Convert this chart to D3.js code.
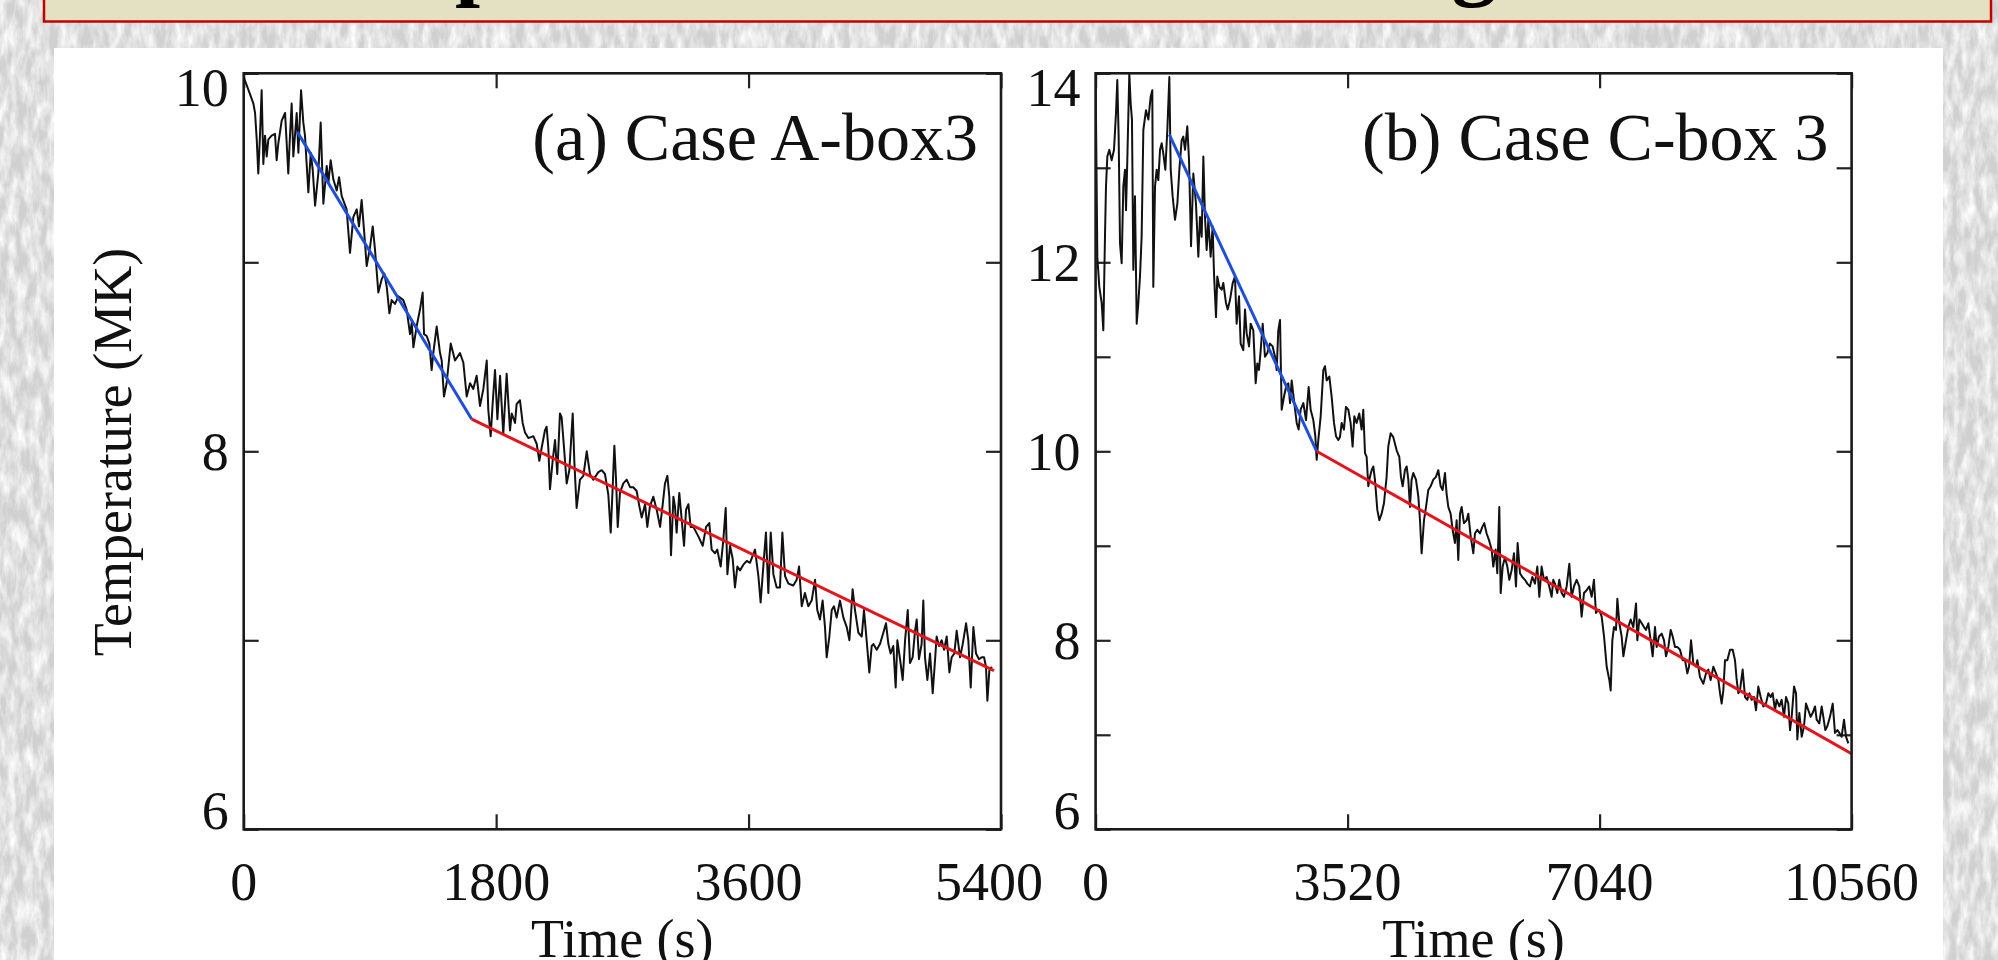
<!DOCTYPE html>
<html>
<head>
<meta charset="utf-8">
<script src="https://cdn.jsdelivr.net/npm/d3@7"></script>
<style>
  body { margin: 0; background: #d4d4d4; overflow: hidden; }
</style>
</head>
<body>
<div id="chart"></div>
<script>
// ---- data: [time (s), temperature (MK)] ----
const leftSeries = [
  [0,9.98],[45,9.89],[69,9.84],[81,9.79],[93,9.65],[104,9.47],[116,9.67],[128,9.91],[140,9.52],[152,9.67],
  [164,9.56],[176,9.65],[199,9.67],[223,9.68],[235,9.54],[247,9.63],[271,9.75],[295,9.79],[318,9.47],[330,9.67],
  [342,9.84],[354,9.56],[378,9.79],[390,9.58],[409,9.91],[425,9.74],[437,9.67],[449,9.52],[461,9.37],[478,9.58],
  [492,9.49],[509,9.30],[532,9.47],[549,9.74],[568,9.31],[592,9.51],[604,9.42],[620,9.54],[639,9.44],[663,9.38],
  [680,9.45],[699,9.35],[734,9.28],[758,9.05],[782,9.24],[806,9.28],[822,9.19],[841,9.33],[858,9.17],[877,8.98],
  [901,9.08],[920,9.19],[936,9.07],[960,8.84],[984,8.91],[1003,8.94],[1020,8.87],[1039,8.73],[1055,8.80],[1079,8.78],
  [1103,8.82],[1138,8.80],[1162,8.75],[1186,8.62],[1198,8.68],[1210,8.55],[1233,8.66],[1257,8.75],[1276,8.84],[1286,8.62],
  [1305,8.61],[1324,8.57],[1340,8.43],[1352,8.52],[1376,8.66],[1400,8.52],[1412,8.48],[1428,8.29],[1447,8.36],[1476,8.57],
  [1507,8.48],[1542,8.52],[1566,8.47],[1590,8.29],[1614,8.36],[1637,8.33],[1661,8.40],[1685,8.24],[1709,8.33],[1733,8.48],
  [1744,8.22],[1761,8.08],[1775,8.25],[1792,8.43],[1809,8.17],[1828,8.40],[1851,8.09],[1875,8.41],[1899,8.11],
  [1911,8.20],[1935,8.15],[1946,8.25],[1970,8.27],[1989,8.15],[2006,8.10],[2030,8.07],[2065,8.08],[2089,8.04],[2108,7.95],
  [2125,8.02],[2148,8.11],[2160,8.13],[2172,8.02],[2184,7.80],[2203,7.95],[2220,8.06],[2236,7.88],[2255,8.20],[2267,8.18],
  [2284,8.02],[2303,7.83],[2322,7.90],[2346,8.20],[2358,7.94],[2374,7.70],[2398,7.85],[2422,7.87],[2446,8.00],[2469,7.88],
  [2493,7.85],[2529,7.89],[2553,7.90],[2576,7.88],[2600,7.77],[2617,7.57],[2631,7.81],[2643,8.03],[2655,7.85],[2667,7.60],
  [2683,7.78],[2707,7.83],[2731,7.85],[2755,7.81],[2778,7.81],[2802,7.79],[2821,7.71],[2838,7.65],[2862,7.72],[2878,7.60],
  [2897,7.71],[2921,7.76],[2945,7.69],[2969,7.60],[2988,7.72],[3004,7.83],[3021,7.87],[3035,7.76],[3047,7.45],[3064,7.76],
  [3075,7.71],[3087,7.57],[3106,7.78],[3123,7.64],[3140,7.50],[3154,7.69],[3171,7.72],[3187,7.60],[3206,7.60],[3242,7.55],
  [3273,7.50],[3297,7.60],[3320,7.62],[3337,7.48],[3361,7.46],[3377,7.48],[3401,7.39],[3420,7.53],[3437,7.70],[3449,7.35],
  [3468,7.50],[3487,7.43],[3503,7.28],[3520,7.39],[3539,7.37],[3563,7.40],[3587,7.42],
  [3610,7.41],[3646,7.48],[3670,7.34],[3686,7.20],[3705,7.39],[3724,7.57],[3741,7.25],[3758,7.57],[3777,7.35],[3800,7.28],
  [3824,7.28],[3841,7.57],[3860,7.34],[3884,7.30],[3919,7.29],[3943,7.32],[3960,7.39],[3979,7.18],[4002,7.25],[4026,7.18],
  [4050,7.21],[4074,7.32],[4090,7.16],[4109,7.11],[4128,7.21],[4145,7.07],[4157,6.91],[4176,7.02],[4193,7.16],[4209,7.18],
  [4228,7.12],[4252,7.21],[4276,7.12],[4300,7.07],[4319,7.00],[4342,7.27],[4359,7.16],[4383,7.04],[4407,7.02],[4423,7.16],
  [4442,7.00],[4461,6.83],[4478,6.97],[4490,6.98],[4514,6.95],[4537,6.98],[4561,7.04],[4580,7.09],[4597,6.98],[4613,6.93],
  [4632,6.97],[4649,6.75],[4661,7.00],[4680,6.90],[4699,6.79],[4716,7.00],[4735,7.16],[4751,6.88],[4770,6.91],[4787,7.05],
  [4799,7.11],[4815,6.90],[4834,6.98],[4846,7.21],[4858,6.91],[4875,6.79],[4894,6.93],[4913,6.72],[4930,6.90],[4941,7.02],
  [4958,6.97],[4977,7.00],[4994,6.95],[5013,7.02],[5032,6.83],[5048,6.91],[5067,6.93],[5084,7.05],[5108,6.91],[5127,6.98],
  [5151,7.09],[5167,7.00],[5184,6.75],[5203,7.07],[5222,6.93],[5243,6.90],[5262,6.91],[5279,6.91],[5293,6.86],[5303,6.68],
  [5317,6.84],[5334,6.86]
];

const rightSeries = [
  [0,13.86],[6,13.51],[24,12.06],[52,11.74],[85,11.57],[108,11.28],[131,12.27],[145,12.80],[164,13.12],[192,13.19],
  [224,13.08],[257,13.19],[285,13.58],[303,13.93],[322,13.33],[341,12.20],[364,11.99],[387,12.80],[411,12.98],[425,12.55],
  [443,13.08],[471,14.00],[490,13.68],[508,13.51],[527,11.92],[550,12.70],[574,11.35],[597,11.57],[620,11.85],[643,12.27],
  [667,13.40],[704,13.61],[737,13.51],[769,13.75],[792,13.82],[806,11.74],[830,12.80],[853,12.98],[876,12.87],[900,13.19],
  [923,13.26],[946,13.15],[974,12.98],[1002,13.40],[1030,13.96],[1049,12.98],[1076,12.70],[1109,12.45],[1142,12.62],[1170,12.98],
  [1202,13.29],[1225,13.33],[1249,13.19],[1281,13.44],[1305,13.08],[1333,12.17],[1365,12.94],[1402,12.62],[1435,12.06],[1458,12.48],
  [1482,12.27],[1505,13.12],[1528,12.48],[1551,12.13],[1575,12.45],[1607,12.06],[1635,12.38],[1654,11.88],[1682,11.42],[1700,11.85],
  [1728,11.74],[1761,11.71],[1784,11.78],[1821,11.57],[1845,11.50],[1877,11.60],[1915,11.78],[1947,11.85],[1970,11.35],[2003,11.64],
  [2026,11.14],[2063,11.07],[2087,11.50],[2110,11.25],[2143,11.11],[2166,11.35],[2203,11.28],[2236,10.72],[2259,10.93],[2282,10.86],
  [2306,11.07],[2334,11.35],[2366,11.00],[2399,11.04],[2436,11.14],[2473,11.11],[2506,11.00],[2529,10.86],[2552,11.28],[2576,11.39],
  [2599,10.44],[2632,10.58],[2660,10.68],[2692,10.72],[2716,10.51],[2739,10.75],[2771,10.54],[2809,10.30],[2836,10.23],[2864,10.44],
  [2902,10.51],[2939,10.33],[2976,10.68],[3004,10.44],[3041,10.33],[3069,10.16],[3088,9.91],[3111,10.12],[3144,10.37],[3181,10.86],
  [3204,10.90],[3228,10.75],[3265,10.79],[3297,10.58],[3330,10.30],[3358,10.16],[3390,10.12],
  [3413,10.15],[3437,10.30],[3469,10.23],[3497,10.47],[3530,10.44],[3562,10.30],[3590,10.05],[3614,10.37],[3646,10.30],[3683,10.40],
  [3716,10.23],[3739,10.44],[3763,9.98],[3786,9.94],[3809,9.63],[3832,9.73],[3856,9.80],[3879,9.84],[3902,9.70],[3935,9.38],
  [3963,9.27],[3995,9.34],[4028,9.45],[4065,9.73],[4088,10.05],[4121,10.19],[4158,10.15],[4205,10.01],[4242,9.94],[4265,9.73],
  [4289,9.63],[4321,9.80],[4345,9.84],[4368,9.70],[4391,9.41],[4414,9.70],[4438,9.77],[4475,9.70],[4508,9.52],[4531,9.27],
  [4554,8.92],[4587,9.27],[4615,9.41],[4647,9.59],[4680,9.63],[4717,9.70],[4754,9.73],[4787,9.80],[4820,9.63],[4847,9.59],
  [4880,9.77],[4903,9.55],[4927,9.41],[4959,9.34],[4987,9.17],[5020,9.03],[5043,9.27],[5066,8.85],[5090,9.34],[5113,9.41],
  [5145,9.24],[5183,9.27],[5206,9.34],[5239,9.10],[5276,8.92],[5299,9.13],[5332,9.17],[5369,9.13],[5402,9.20],[5429,9.24],
  [5462,9.13],[5495,9.06],[5532,8.96],[5555,8.78],[5588,8.96],[5611,8.71],[5639,9.41],[5658,8.50],[5686,8.78],[5718,8.88],
  [5751,8.78],[5779,8.64],[5811,8.74],[5844,8.92],[5872,8.57],[5895,9.03],[5928,8.71],[5960,8.67],[5997,8.64],[6030,8.60],
  [6067,8.57],[6100,8.67],[6137,8.60],[6170,8.78],[6198,8.46],[6230,8.78],[6263,8.64],[6300,8.67],[6337,8.57],[6370,8.46],
  [6393,8.64],[6416,8.60],[6449,8.50],[6477,8.64],[6510,8.50],[6542,8.46],[6580,8.57],[6617,8.81],[6649,8.46],[6682,8.57],
  [6719,8.64],[6756,8.57],[6789,8.25],[6822,8.50],[6859,8.53],[6896,8.57],[6929,8.46],[6961,8.64],[6989,8.29],[7022,8.32],
  [7036,8.32],[7069,8.25],[7102,8.04],[7139,7.72],[7176,7.58],[7195,7.47],[7218,8.00],[7241,8.14],[7269,8.11],[7288,8.44],
  [7316,8.18],[7348,8.04],[7372,7.83],[7409,8.00],[7441,8.14],[7474,8.22],[7511,8.14],[7549,8.39],[7567,8.00],[7595,8.22],
  [7628,8.18],[7660,8.14],[7688,8.11],[7721,8.18],[7753,8.00],[7781,7.83],[7814,8.14],[7837,7.93],[7870,8.04],[7907,8.07],
  [7940,8.00],[7968,7.83],[8000,7.93],[8033,8.11],[8061,8.04],[8093,7.93],[8126,7.93],[8163,7.90],[8200,7.79],[8233,7.79],
  [8266,7.65],[8289,7.72],[8317,8.00],[8349,7.76],[8387,7.72],[8405,7.79],[8442,7.61],[8489,7.54],[8526,7.65],[8559,7.69],
  [8591,7.58],[8629,7.72],[8666,7.65],[8699,7.58],[8722,7.44],[8745,7.33],[8768,7.47],[8792,7.79],[8824,7.79],[8862,7.90],
  [8899,7.90],[8931,7.79],[8955,7.58],[8978,7.44],[9001,7.47],[9038,7.69],[9071,7.40],[9104,7.37],[9132,7.44],[9164,7.37],
  [9197,7.40],[9225,7.26],[9257,7.51],[9290,7.40],[9327,7.30],[9364,7.33],[9397,7.44],[9430,7.40],[9457,7.44],[9490,7.26],
  [9513,7.37],[9551,7.30],[9583,7.37],[9616,7.19],[9644,7.40],[9676,7.33],[9700,7.05],[9723,7.19],[9756,7.51],[9784,7.44],
  [9802,6.95],[9830,7.23],[9863,6.98],[9895,7.09],[9923,7.33],[9956,7.26],[9988,7.19],[10016,7.23],[10049,7.30],[10072,7.16],
  [10109,7.12],[10142,7.30],[10165,7.19],[10193,7.05],[10221,7.09],[10258,7.19],[10296,7.33],[10328,7.02],[10361,7.05],[10389,7.02],
  [10421,6.98],[10454,7.16],[10482,6.98],[10514,6.91]
];

// two-stage linear fits
const leftFitEarly = [[382, 9.69], [1626, 8.17]];
const leftFitLate = [[1626, 8.17], [5350, 6.84]];
const rightFitEarly = [[1030, 13.35], [3088, 10.0]];
const rightFitLate = [[3088, 10.0], [10560, 6.80]];

// axes
const leftXTicks = [0, 1800, 3600, 5400];
const leftYTicks = [6, 7, 8, 9, 10];
const leftYLabels = [6, 8, 10];
const rightXTicks = [0, 3520, 7040, 10560];
const rightYTicks = [6, 7, 8, 9, 10, 11, 12, 13, 14];
const rightYLabels = [6, 8, 10, 12, 14];

const W = 1998, H = 960;
const serif = "'Liberation Serif', 'Times New Roman', serif";

const svg = d3.select("#chart").append("svg")
  .attr("width", W)
  .attr("height", H);

const defs = svg.append("defs");

// marble-ish slide background
const marble = defs.append("filter").attr("id", "marble")
  .attr("x", 0).attr("y", 0).attr("width", "100%").attr("height", "100%");
marble.append("feTurbulence")
  .attr("type", "fractalNoise")
  .attr("baseFrequency", "0.12 0.04")
  .attr("numOctaves", 4)
  .attr("seed", 11);
marble.append("feColorMatrix")
  .attr("type", "matrix")
  .attr("values", "0 0 0 0 1  0 0 0 0 1  0 0 0 0 1  1.8 0 0 0 -0.55");

svg.append("rect").attr("width", W).attr("height", H).attr("fill", "#d0d0d0");
svg.append("rect").attr("width", W).attr("height", H).attr("filter", "url(#marble)");

// title banner (mostly off the top of the frame)
svg.append("rect")
  .attr("x", 44).attr("y", -40)
  .attr("width", 1947).attr("height", 61.5)
  .attr("fill", "#e4e1c3")
  .attr("stroke", "#c40000")
  .attr("stroke-width", 2.5);

const titleBits = [{ ch: "p", x: 480 }, { ch: "g", x: 1474 }];
svg.selectAll(".title-bit").data(titleBits).enter()
  .append("text")
  .attr("class", "title-bit")
  .attr("x", d => d.x)
  .attr("y", -11)
  .attr("text-anchor", "middle")
  .style("font-family", serif)
  .style("font-weight", "bold")
  .style("font-size", "90px")
  .text(d => d.ch);

// white figure panel
svg.append("rect")
  .attr("x", 54).attr("y", 48)
  .attr("width", 1889).attr("height", 920)
  .attr("fill", "#ffffff");

function drawPanel(p) {
  const x = d3.scaleLinear().domain(p.xDomain).range([p.x0, p.x1]);
  const y = d3.scaleLinear().domain(p.yDomain).range([p.y1, p.y0]);
  const g = svg.append("g");

  defs.append("clipPath").attr("id", p.id + "-clip")
    .append("rect")
    .attr("x", p.x0).attr("y", p.y0)
    .attr("width", p.x1 - p.x0).attr("height", p.y1 - p.y0);

  // inward ticks on all four sides
  const tick = 15;
  g.append("g").attr("transform", `translate(0,${p.y1})`)
    .call(d3.axisBottom(x).tickValues(p.xTicks).tickSizeInner(-tick).tickSizeOuter(0).tickFormat(""));
  g.append("g").attr("transform", `translate(0,${p.y0})`)
    .call(d3.axisTop(x).tickValues(p.xTicks).tickSizeInner(-tick).tickSizeOuter(0).tickFormat(""));
  g.append("g").attr("transform", `translate(${p.x0},0)`)
    .call(d3.axisLeft(y).tickValues(p.yTicks).tickSizeInner(-tick).tickSizeOuter(0).tickFormat(""));
  g.append("g").attr("transform", `translate(${p.x1},0)`)
    .call(d3.axisRight(y).tickValues(p.yTicks).tickSizeInner(-tick).tickSizeOuter(0).tickFormat(""));
  g.selectAll(".domain").remove();
  g.selectAll(".tick line").attr("stroke", "#222").attr("stroke-width", 2.2);

  const line = d3.line().x(d => x(d[0])).y(d => y(d[1]));
  const plot = g.append("g").attr("clip-path", `url(#${p.id}-clip)`);

  plot.append("path").datum(p.series)
    .attr("d", line)
    .attr("fill", "none")
    .attr("stroke", "#111")
    .attr("stroke-width", 2)
    .attr("stroke-linejoin", "round");

  plot.append("path").datum(p.fitEarly)
    .attr("d", line)
    .attr("fill", "none")
    .attr("stroke", "#1f4fd8")
    .attr("stroke-width", 3);

  plot.append("path").datum(p.fitLate)
    .attr("d", line)
    .attr("fill", "none")
    .attr("stroke", "#e3141b")
    .attr("stroke-width", 3);

  // frame
  g.append("rect")
    .attr("x", p.x0).attr("y", p.y0)
    .attr("width", p.x1 - p.x0).attr("height", p.y1 - p.y0)
    .attr("fill", "none")
    .attr("stroke", "#1a1a1a")
    .attr("stroke-width", 2.6);

  // tick labels
  const yMin = p.yDomain[0], yMax = p.yDomain[1];
  g.selectAll(".ylab").data(p.yLabels).enter()
    .append("text")
    .attr("x", p.x0 - 15)
    .attr("y", d => d === yMax ? y(d) + 33 : d === yMin ? y(d) : y(d) + 19)
    .attr("text-anchor", "end")
    .style("font-family", serif)
    .style("font-size", "54px")
    .attr("fill", "#111")
    .text(d => d);

  g.selectAll(".xlab").data(p.xTicks).enter()
    .append("text")
    .attr("x", d => x(d) + (d === p.xDomain[1] && p.id === "left" ? -12 : 0))
    .attr("y", 900)
    .attr("text-anchor", "middle")
    .style("font-family", serif)
    .style("font-size", "54px")
    .attr("fill", "#111")
    .text(d => d);

  g.append("text")
    .attr("x", (p.x0 + p.x1) / 2)
    .attr("y", 957)
    .attr("text-anchor", "middle")
    .style("font-family", serif)
    .style("font-size", "54px")
    .attr("fill", "#111")
    .text("Time (s)");

  g.append("text")
    .attr("x", p.x1 - 23)
    .attr("y", 160)
    .attr("text-anchor", "end")
    .style("font-family", serif)
    .style("font-size", "68px")
    .attr("fill", "#111")
    .text(p.tag);
}

drawPanel({
  id: "left", x0: 243.7, x1: 1001, y0: 73.3, y1: 829.3,
  xDomain: [0, 5400], yDomain: [6, 10],
  xTicks: leftXTicks, yTicks: leftYTicks, yLabels: leftYLabels,
  series: leftSeries, fitEarly: leftFitEarly, fitLate: leftFitLate,
  tag: "(a) Case A-box3"
});

drawPanel({
  id: "right", x0: 1095.6, x1: 1851.6, y0: 73.3, y1: 829.3,
  xDomain: [0, 10560], yDomain: [6, 14],
  xTicks: rightXTicks, yTicks: rightYTicks, yLabels: rightYLabels,
  series: rightSeries, fitEarly: rightFitEarly, fitLate: rightFitLate,
  tag: "(b) Case C-box 3"
});

svg.append("text")
  .attr("transform", "translate(131,452) rotate(-90)")
  .attr("text-anchor", "middle")
  .style("font-family", serif)
  .style("font-size", "54px")
  .attr("fill", "#111")
  .text("Temperature (MK)");
</script>
</body>
</html>
